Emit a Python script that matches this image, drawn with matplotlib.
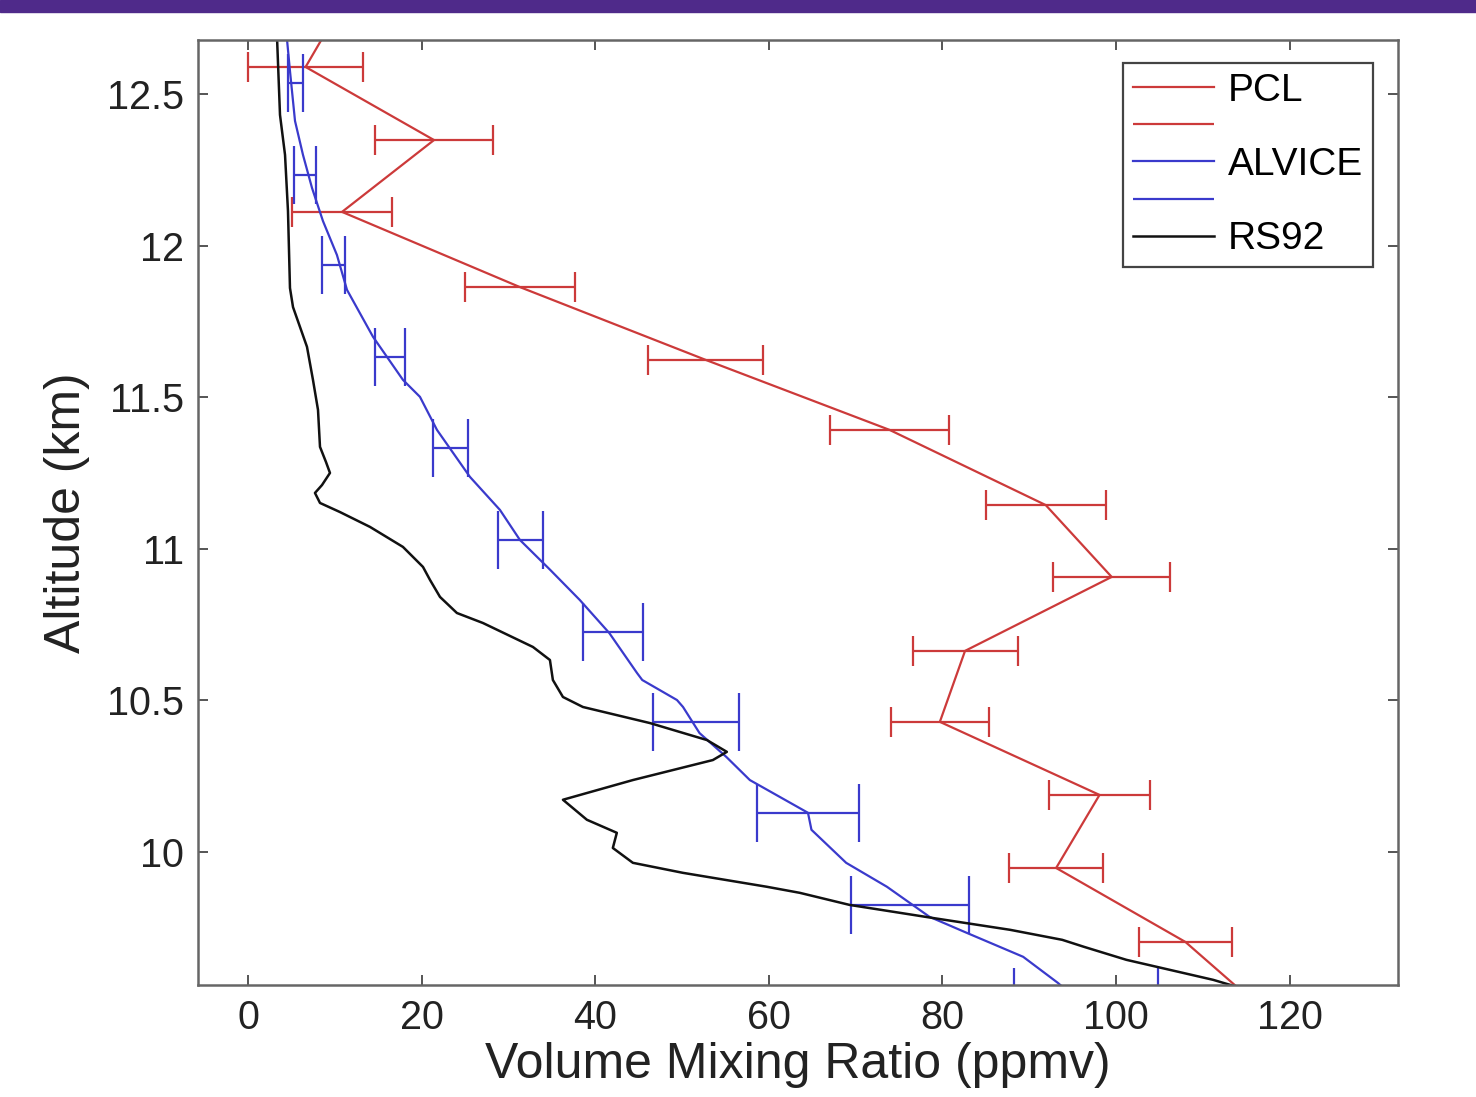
import matplotlib
matplotlib.use("Agg")
import matplotlib.pyplot as plt
from matplotlib.patches import Rectangle

plt.rcParams['font.family'] = ['Liberation Sans', 'DejaVu Sans']

# PCL retrieval (points + horizontal error)
pcl_alt = [12.83, 12.589, 12.348, 12.111, 11.863, 11.623, 11.392, 11.144,
           10.907, 10.663, 10.429, 10.188, 9.947, 9.703, 9.463]
pcl_vmr = [11.5, 6.6, 21.4, 10.8, 31.3, 52.7, 73.9, 91.9,
           99.5, 82.6, 79.7, 98.1, 93.1, 108.0, 117.6]
pcl_err = [6.0, 6.6, 6.85, 5.75, 6.35, 6.6, 6.9, 6.9,
           6.75, 6.05, 5.65, 5.85, 5.45, 5.4, 5.5]

# ALVICE profile
alv_alt = [12.72, 12.685, 12.576, 12.411, 12.299, 12.190, 12.081, 11.969, 11.854,
           11.699, 11.557, 11.501, 11.392, 11.237, 11.128, 11.029, 10.930,
           10.831, 10.722, 10.590, 10.567, 10.501, 10.478, 10.392, 10.313,
           10.237, 10.129, 10.073, 9.964, 9.885, 9.786, 9.733, 9.654, 9.568, 9.50]
alv_vmr = [4.2, 4.44, 4.80, 5.38, 6.30, 7.34, 8.60, 10.21, 11.37,
           14.37, 17.82, 19.78, 21.74, 25.54, 29.0, 31.3, 34.8,
           38.2, 41.6, 44.8, 45.4, 49.4, 50.1, 52.0, 55.1,
           57.8, 64.5, 64.9, 68.9, 73.6, 78.5, 82.8, 89.3, 93.3, 96.0]

# ALVICE error bars
alv_bar_alt = [12.536, 12.233, 11.936, 11.633, 11.332, 11.029, 10.726,
               10.429, 10.129, 9.825, 9.522]
alv_bar_vmr = [5.44, 6.53, 9.82, 16.32, 23.3, 31.36, 42.0, 51.6, 64.5, 76.3, 96.5]
alv_bar_err = [0.86, 1.27, 1.32, 1.73, 2.0, 2.6, 3.46, 5.0, 5.93, 6.8, 8.3]

# RS92 radiosonde
rs_alt = [12.72, 12.685, 12.431, 12.299, 12.114, 11.860, 11.797, 11.666, 11.557,
          11.458, 11.336, 11.286, 11.250, 11.210, 11.184, 11.151, 11.121,
          11.072, 11.006, 10.940, 10.897, 10.841, 10.788, 10.755, 10.676,
          10.633, 10.567, 10.511, 10.478, 10.425, 10.369, 10.330, 10.303,
          10.237, 10.172, 10.106, 10.063, 10.013, 9.964, 9.931, 9.885,
          9.865, 9.825, 9.782, 9.743, 9.710, 9.687, 9.644, 9.611, 9.578,
          9.561, 9.545]
rs_vmr = [3.3, 3.31, 3.65, 4.23, 4.57, 4.80, 5.15, 6.76, 7.45,
          8.03, 8.26, 8.95, 9.41, 8.49, 7.68, 8.26, 10.56,
          14.02, 17.82, 20.13, 20.94, 22.09, 24.04, 27.04, 32.80,
          34.76, 35.10, 36.26, 38.56, 46.28, 52.85, 55.15, 53.54,
          44.32, 36.26, 39.02, 42.47, 42.01, 44.32, 50.08, 59.76,
          63.56, 69.32, 78.9, 87.8, 93.8, 96.3, 101.2, 106.2, 111.2,
          113.2, 115.0]

red = '#cc3a3a'
blue = '#3a3acc'

fig = plt.figure(figsize=(14.76, 10.97), dpi=100)
fig.patches.append(Rectangle((0, 1 - 12 / 1097), 1, 12 / 1097,
                             transform=fig.transFigure, color='#4f2a8a', zorder=10))
ax = fig.add_axes([198 / 1476, 1 - 985 / 1097, 1200 / 1476, 945 / 1097])

pcl_line, = ax.plot(pcl_vmr, pcl_alt, color=red, lw=1.6)
pcl_eb = ax.errorbar(pcl_vmr, pcl_alt, xerr=pcl_err, fmt='none', ecolor=red,
                     elinewidth=1.6, capsize=11, capthick=1.6)
alv_line, = ax.plot(alv_vmr, alv_alt, color=blue, lw=1.6)
alv_eb = ax.errorbar(alv_bar_vmr, alv_bar_alt, xerr=alv_bar_err, fmt='none',
                     ecolor=blue, elinewidth=1.6, capsize=21, capthick=1.6)
rs_line, = ax.plot(rs_vmr, rs_alt, color='#111111', lw=1.8)

ax.set_xlim(-5.8, 132.5)
ax.set_ylim(9.561, 12.678)
ax.set_xticks([0, 20, 40, 60, 80, 100, 120])
ax.set_yticks([10, 10.5, 11, 11.5, 12, 12.5])
ax.set_yticklabels(['10', '10.5', '11', '11.5', '12', '12.5'])
ax.tick_params(direction='in', length=7, width=1.4, top=True, right=True,
               labelsize=28.5, colors='#555555', labelcolor='#222222', pad=10)
for s in ax.spines.values():
    s.set_color('#666666')
    s.set_linewidth(1.8)

ax.set_xlabel('Volume Mixing Ratio (ppmv)', fontsize=36, color='#222222', labelpad=4)
ax.set_ylabel('Altitude (km)', fontsize=36, color='#222222', labelpad=12)

handles = [pcl_line, pcl_eb.lines[2][0], alv_line, alv_eb.lines[2][0], rs_line]
labels = ['PCL', ' ', 'ALVICE', ' ', 'RS92']
leg = ax.legend(handles, labels, loc='upper right',
                bbox_to_anchor=(1373 / 1476, 1 - 63 / 1097),
                bbox_transform=fig.transFigure, fontsize=28, fancybox=False,
                framealpha=1, edgecolor='#444444', handlelength=2.1,
                labelspacing=0.03, borderpad=0.25, handletextpad=0.35,
                borderaxespad=0)
leg.get_frame().set_linewidth(1.6)

fig.savefig('out.png', dpi=100)
